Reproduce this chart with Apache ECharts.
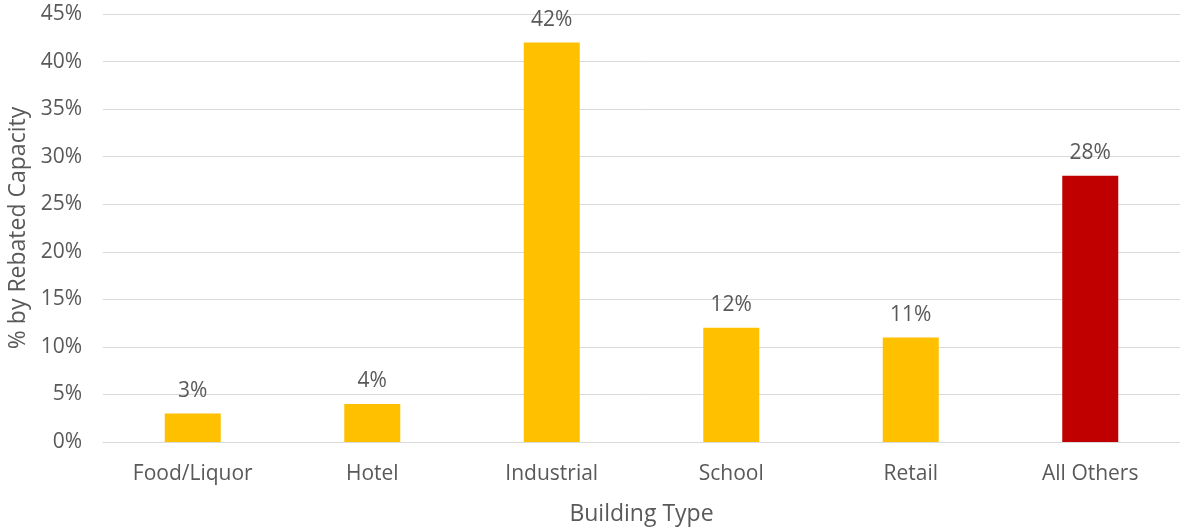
<!DOCTYPE html>
<html>
<head>
<meta charset="utf-8">
<script src="https://cdn.jsdelivr.net/npm/echarts@6/dist/echarts.min.js"></script>
<style>
  html, body { margin: 0; padding: 0; background: #ffffff; }
  #chart { width: 1180px; height: 527px; }
</style>
</head>
<body>
<div id="chart"></div>
<script>
// Share of rebated capacity by building type
const categories = ['Food/Liquor', 'Hotel', 'Industrial', 'School', 'Retail', 'All Others'];
const shares = [3, 4, 42, 12, 11, 28];
const barColors = ['#FFC000', '#FFC000', '#FFC000', '#FFC000', '#FFC000', '#C00000'];
const yTicks = [0, 5, 10, 15, 20, 25, 30, 35, 40, 45];

const textColor = '#595959';
const fontFamily = 'Open Sans, Noto Sans, sans-serif';

const chart = echarts.init(document.getElementById('chart'), null, { renderer: 'canvas' });

chart.setOption({
  animation: false,
  grid: { left: 103, right: 0, top: 14, bottom: 85, containLabel: false, outerBoundsMode: 'none' },
  xAxis: {
    type: 'category',
    data: categories,
    name: 'Building Type',
    nameLocation: 'middle',
    nameGap: 61,
    nameTextStyle: { color: textColor, fontSize: 23, fontFamily },
    axisLine: { show: true, lineStyle: { color: '#d9d9d9', width: 1 } },
    axisTick: { show: false },
    axisLabel: { color: textColor, fontSize: 21, fontFamily, margin: 22 }
  },
  yAxis: {
    type: 'value',
    min: yTicks[0],
    max: yTicks[yTicks.length - 1],
    interval: 5,
    name: '% by Rebated Capacity',
    nameLocation: 'middle',
    nameGap: 73,
    nameRotate: 90,
    nameTextStyle: { color: textColor, fontSize: 23, fontFamily },
    axisLine: { show: false },
    axisTick: { show: false },
    axisLabel: { color: textColor, fontSize: 21, fontFamily, margin: 21, formatter: v => v + '%' },
    splitLine: { lineStyle: { color: '#d9d9d9', width: 1 } }
  },
  series: [{
    type: 'bar',
    data: shares.map((v, i) => ({ value: v, itemStyle: { color: barColors[i] } })),
    barWidth: 56,
    label: {
      show: true,
      position: 'top',
      distance: 12,
      color: textColor,
      fontSize: 21,
      fontFamily,
      formatter: p => p.value + '%'
    }
  }]
});
</script>
</body>
</html>
